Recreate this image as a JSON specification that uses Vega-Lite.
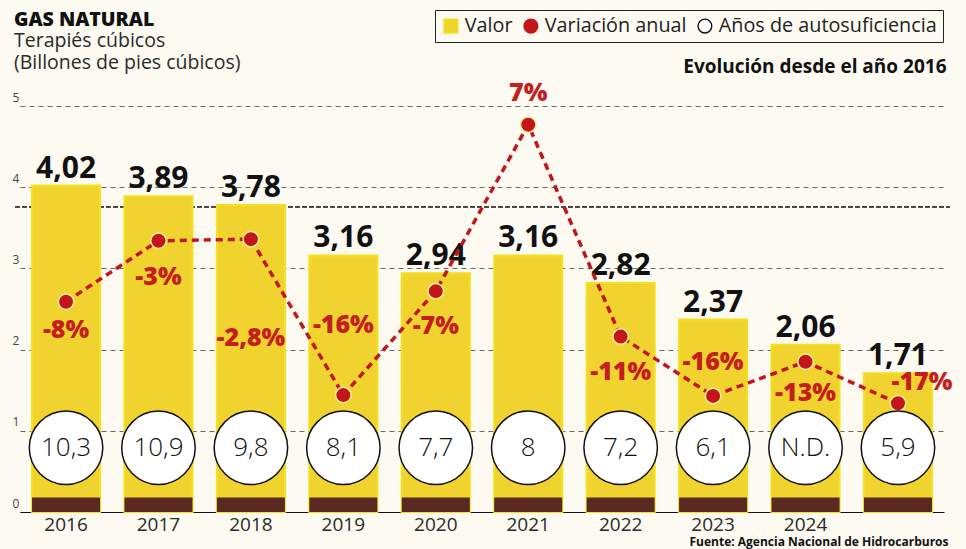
{
  "$schema": "https://vega.github.io/schema/vega-lite/v6.json",
  "width": 924,
  "height": 406,
  "autosize": {"type": "none"},
  "padding": {"left": 20, "top": 106, "right": 22, "bottom": 37},
  "background": "#fcfaf1",
  "title": {
    "text": "GAS NATURAL",
    "subtitle": ["Terapiés cúbicos", "(Billones de pies cúbicos)"],
    "anchor": "start",
    "frame": "group",
    "orient": "top",
    "offset": -64,
    "dx": -6,
    "font": "Open Sans",
    "fontSize": 19.5,
    "fontWeight": 800,
    "color": "#111",
    "subtitleFont": "Open Sans",
    "subtitleFontSize": 19.5,
    "subtitleFontWeight": 400,
    "subtitleColor": "#2a2a2a",
    "subtitleLineHeight": 22.5,
    "subtitlePadding": 1
  },
  "config": {
    "view": {"stroke": null},
    "locale": {
      "number": {"decimal": ",", "thousands": ".", "grouping": [3], "currency": ["", " €"]}
    },
    "axis": {"labelFont": "Open Sans", "titleFont": "Open Sans"},
    "legend": {
      "title": null,
      "orient": "none",
      "legendX": 415,
      "legendY": -96,
      "direction": "horizontal",
      "strokeColor": "#222",
      "padding": 6,
      "labelFont": "Open Sans",
      "labelFontSize": 19.8,
      "labelColor": "#222",
      "labelLimit": 400,
      "labelOffset": 4,
      "columnPadding": 8,
      "symbolSize": 190,
      "symbolStrokeWidth": 1.4
    }
  },
  "data": {
    "values": [
      {"anio": "2016", "valor": 4.02, "pos": 2.59, "variacion": "-8%", "ylab": 2.24, "autos": "10,3"},
      {"anio": "2017", "valor": 3.89, "pos": 3.34, "variacion": "-3%", "ylab": 2.89, "autos": "10,9"},
      {"anio": "2018", "valor": 3.78, "pos": 3.36, "variacion": "-2,8%", "ylab": 2.14, "autos": "9,8"},
      {"anio": "2019", "valor": 3.16, "pos": 1.44, "variacion": "-16%", "ylab": 2.30, "autos": "8,1"},
      {"anio": "2020", "valor": 2.94, "pos": 2.72, "variacion": "-7%", "ylab": 2.29, "autos": "7,7"},
      {"anio": "2021", "valor": 3.16, "pos": 4.77, "variacion": "7%", "ylab": 5.16, "autos": "8"},
      {"anio": "2022", "valor": 2.82, "pos": 2.16, "variacion": "-11%", "ylab": 1.72, "autos": "7,2"},
      {"anio": "2023", "valor": 2.37, "pos": 1.43, "variacion": "-16%", "ylab": 1.85, "autos": "6,1"},
      {"anio": "2024", "valor": 2.06, "pos": 1.85, "variacion": "-13%", "ylab": 1.47, "autos": "N.D."},
      {"anio": "2025", "valor": 1.71, "pos": 1.34, "variacion": "-17%", "ylab": 1.60, "autos": "5,9"}
    ]
  },
  "encoding": {
    "x": {
      "field": "anio",
      "type": "nominal",
      "sort": null,
      "scale": {"paddingInner": 0.264, "paddingOuter": 0.13},
      "axis": {
        "title": "Fuente: Agencia Nacional de Hidrocarburos",
        "titleX": 928,
        "titleY": 33,
        "titleAlign": "right",
        "titleAnchor": null,
        "titleBaseline": "alphabetic",
        "titleFontSize": 12,
        "titleFontWeight": 700,
        "titleColor": "#111",
        "labelAngle": 0,
        "labelFontSize": 19,
        "labelColor": "#2a2a2a",
        "labelPadding": 3,
        "labelExpr": "datum.value == '2025' ? '' : datum.value",
        "ticks": false,
        "domain": true,
        "domainColor": "#111",
        "domainWidth": 1.2
      }
    }
  },
  "layer": [
    {
      "mark": {"type": "rule", "stroke": "#444", "strokeDash": [5, 2], "strokeWidth": 1.2},
      "encoding": {"y": {"datum": 3.76}, "x": {"value": -5}, "x2": {"value": 930}}
    },
    {
      "mark": {"type": "bar", "strokeWidth": 2},
      "encoding": {
        "y": {
          "field": "valor",
          "type": "quantitative",
          "scale": {"domain": [0, 5], "nice": false},
          "axis": {
            "title": "Evolución desde el año 2016",
            "titleAngle": 0,
            "titleX": 926,
            "titleY": -34,
            "titleAlign": "right",
            "titleBaseline": "alphabetic",
            "titleFontSize": 19,
            "titleFontWeight": 700,
            "titleColor": "#111",
            "values": [0, 1, 2, 3, 4, 5],
            "format": "d",
            "labelAlign": "left",
            "labelPadding": 8,
            "labelBaseline": "alphabetic",
            "labelOffset": -5,
            "labelFontSize": 12,
            "labelColor": "#444",
            "ticks": false,
            "domain": false,
            "grid": true,
            "gridDash": [5, 4],
            "gridColor": "#666",
            "gridWidth": 1
          }
        },
        "color": {
          "datum": "Valor",
          "type": "nominal",
          "scale": {
            "domain": ["Valor", "Variación anual", "Años de autosuficiencia"],
            "range": ["#f0d32e", "#c3161b", "#ffffff"]
          }
        },
        "stroke": {
          "datum": "Valor",
          "type": "nominal",
          "scale": {
            "domain": ["Valor", "Variación anual", "Años de autosuficiencia"],
            "range": ["#f4e11c", "#c3161b", "#111111"]
          }
        }
      }
    },
    {
      "mark": {"type": "bar", "color": "#5a2a22"},
      "encoding": {"y": {"datum": 0.18}, "y2": {"datum": 0}}
    },
    {
      "mark": {"type": "text", "font": "Open Sans", "fontSize": 30, "fontWeight": 700, "color": "#111", "baseline": "alphabetic", "dy": -8},
      "encoding": {
        "y": {"field": "valor", "type": "quantitative"},
        "text": {"field": "valor", "type": "quantitative", "format": ".2f"}
      }
    },
    {
      "mark": {"type": "line", "strokeDash": [7, 5], "strokeWidth": 3.5, "color": "#c3161b"},
      "encoding": {"y": {"field": "pos", "type": "quantitative"}}
    },
    {
      "mark": {"type": "point", "shape": "circle", "filled": true, "size": 240, "stroke": "#fff1a0", "strokeWidth": 1.5, "opacity": 1},
      "encoding": {
        "y": {"field": "pos", "type": "quantitative"},
        "color": {"datum": "Variación anual", "type": "nominal"}
      }
    },
    {
      "transform": [{"filter": "datum.anio != '2025'"}],
      "mark": {"type": "text", "font": "Open Sans", "fontSize": 25, "fontWeight": 800, "color": "#c41e1e", "baseline": "middle"},
      "encoding": {
        "y": {"field": "ylab", "type": "quantitative"},
        "text": {"field": "variacion", "type": "nominal"}
      }
    },
    {
      "transform": [{"filter": "datum.anio == '2025'"}],
      "mark": {"type": "text", "font": "Open Sans", "fontSize": 25, "fontWeight": 800, "color": "#c41e1e", "baseline": "middle", "dx": 24},
      "encoding": {
        "y": {"field": "ylab", "type": "quantitative"},
        "text": {"field": "variacion", "type": "nominal"}
      }
    },
    {
      "mark": {"type": "point", "filled": true, "size": 5400, "strokeWidth": 1.5, "opacity": 1},
      "encoding": {
        "y": {"datum": 0.79},
        "color": {"datum": "Años de autosuficiencia", "type": "nominal"},
        "stroke": {"datum": "Años de autosuficiencia", "type": "nominal"},
        "shape": {
          "datum": "Años de autosuficiencia",
          "type": "nominal",
          "scale": {
            "domain": ["Valor", "Variación anual", "Años de autosuficiencia"],
            "range": ["square", "circle", "circle"]
          }
        }
      }
    },
    {
      "mark": {"type": "text", "font": "Open Sans", "fontSize": 26, "fontWeight": 300, "color": "#111", "baseline": "middle"},
      "encoding": {
        "y": {"datum": 0.79},
        "text": {"field": "autos", "type": "nominal"}
      }
    }
  ]
}
